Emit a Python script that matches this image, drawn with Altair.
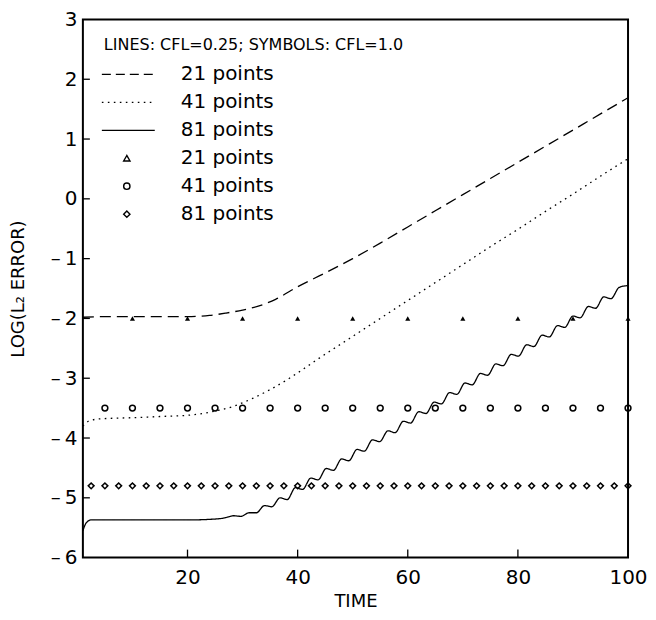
import altair as alt
import pandas as pd

# ---- data ----
t_21 = [1, 5, 10, 15, 20, 24, 27, 30, 33, 36, 40, 45, 50, 55, 60, 65, 70, 75, 80, 85, 90, 95, 100]
e_21 = [-1.98, -1.97, -1.97, -1.97, -1.97, -1.95, -1.91, -1.86, -1.79, -1.68, -1.47, -1.24, -1.00,
        -0.74, -0.47, -0.20, 0.07, 0.34, 0.61, 0.88, 1.15, 1.42, 1.69]

t_41 = [1, 2, 4, 10, 15, 20, 25, 28, 30, 32, 35, 38, 40, 44, 50, 55, 60, 65, 70, 75, 80, 85, 90, 95, 100]
e_41 = [-3.80, -3.72, -3.68, -3.66, -3.64, -3.62, -3.55, -3.48, -3.41, -3.33, -3.19, -3.03, -2.91,
        -2.66, -2.30, -2.00, -1.70, -1.40, -1.10, -0.80, -0.51, -0.21, 0.08, 0.38, 0.67]

t_81 = [1, 1.6, 2.5, 5, 10, 15, 20, 24, 26.5, 28.4, 29.7, 31.2, 32.5,
        34.0, 35.3, 36.8, 38.1, 39.6, 40.9, 42.4, 43.7, 45.2, 46.5, 48.0, 49.3, 50.8, 52.1,
        53.6, 54.9, 56.4, 57.7, 59.2, 60.5, 62.0, 63.3, 64.8, 66.1, 67.6, 68.9, 70.4, 71.7,
        73.2, 74.5, 76.0, 77.3, 78.8, 80.1, 81.6, 82.9, 84.4, 85.7, 87.2, 88.5, 90.0, 91.3,
        92.8, 94.1, 95.6, 96.9, 98.4, 100]
e_81 = [-5.55, -5.42, -5.37, -5.37, -5.37, -5.37, -5.37, -5.36, -5.34, -5.30, -5.31, -5.25, -5.25,
        -5.13, -5.15, -5.00, -5.03, -4.83, -4.86, -4.67, -4.70, -4.51, -4.54, -4.35, -4.38,
        -4.19, -4.22, -4.03, -4.06, -3.88, -3.91, -3.72, -3.75, -3.56, -3.59, -3.40, -3.43,
        -3.24, -3.27, -3.08, -3.11, -2.92, -2.95, -2.76, -2.79, -2.60, -2.63, -2.44, -2.47,
        -2.28, -2.31, -2.12, -2.15, -1.96, -1.99, -1.80, -1.83, -1.64, -1.67, -1.48, -1.45]

tri_t = [10, 20, 30, 40, 50, 60, 70, 80, 90, 100]
tri_e = [-2.0, -2.0, -2.0, -2.0, -2.0, -2.0, -2.0, -2.0, -2.0, -2.0]

cir_t = [5, 10, 15, 20, 25, 30, 35, 40, 45, 50, 55, 60, 65, 70, 75, 80, 85, 90, 95, 100]
cir_e = [-3.5, -3.5, -3.5, -3.5, -3.5, -3.5, -3.5, -3.5, -3.5, -3.5,
         -3.5, -3.5, -3.5, -3.5, -3.5, -3.5, -3.5, -3.5, -3.5, -3.5]

dia_t = [2.5, 5, 7.5, 10, 12.5, 15, 17.5, 20, 22.5, 25, 27.5, 30, 32.5, 35, 37.5, 40,
         42.5, 45, 47.5, 50, 52.5, 55, 57.5, 60, 62.5, 65, 67.5, 70, 72.5, 75, 77.5, 80,
         82.5, 85, 87.5, 90, 92.5, 95, 97.5, 100]
dia_e = [-4.8, -4.8, -4.8, -4.8, -4.8, -4.8, -4.8, -4.8, -4.8, -4.8, -4.8, -4.8, -4.8, -4.8,
         -4.8, -4.8, -4.8, -4.8, -4.8, -4.8, -4.8, -4.8, -4.8, -4.8, -4.8, -4.8, -4.8, -4.8,
         -4.8, -4.8, -4.8, -4.8, -4.8, -4.8, -4.8, -4.8, -4.8, -4.8, -4.8, -4.8]

x_ticks = [20, 40, 60, 80, 100]
y_ticks = [-6, -5, -4, -3, -2, -1, 0, 1, 2, 3]

legend_title = "LINES: CFL=0.25; SYMBOLS: CFL=1.0"
legend_labels = ["21 points", "41 points", "81 points", "21 points", "41 points", "81 points"]

W, H = 546, 539
FONT = "DejaVu Sans"

xs = alt.Scale(domain=[1, 100], nice=False, zero=False)
ys = alt.Scale(domain=[-6, 3], nice=False, zero=False)

xaxis = alt.Axis(values=x_ticks, title="TIME", ticks=False, domain=False, grid=False,
                 labelFlush=False, labelPadding=10, titlePadding=5)
yaxis = alt.Axis(values=y_ticks, title="LOG(L\u2082  ERROR)", ticks=False, domain=False,
                 grid=False, labelPadding=6, titlePadding=23,
                 labelExpr="datum.value < 0 ? '\u2013\u2009' + abs(datum.value) : '' + datum.value")


def line_layer(t, e, dash):
    df = pd.DataFrame({"t": t, "e": e})
    return alt.Chart(df).mark_line(color="black", strokeWidth=1.3, strokeDash=dash,
                                   interpolate="monotone").encode(
        x=alt.X("t:Q", scale=xs, axis=xaxis),
        y=alt.Y("e:Q", scale=ys, axis=yaxis))


def pt_layer(t, e, shape, size, filled):
    df = pd.DataFrame({"t": t, "e": e})
    return alt.Chart(df).mark_point(shape=shape, size=size, filled=filled, color="black",
                                    strokeWidth=1.5, opacity=1, clip=False).encode(
        x=alt.X("t:Q", scale=xs),
        y=alt.Y("e:Q", scale=ys))


l21 = line_layer(t_21, e_21, [11, 6])
l41 = line_layer(t_41, e_41, [1.6, 4.4])
l81 = line_layer(t_81, e_81, [1, 0])

p21 = pt_layer(tri_t, tri_e, "triangle-up", 26, True)
p41 = pt_layer(cir_t, cir_e, "circle", 34, False)
p81 = pt_layer(dia_t, dia_e, "diamond", 34, False)

# inward tick marks
xt = alt.Chart(pd.DataFrame({"t": x_ticks[:-1]})).mark_rule(color="black", strokeWidth=1.3).encode(
    x=alt.X("t:Q", scale=xs), y=alt.value(H), y2=alt.value(H - 8))
yt = alt.Chart(pd.DataFrame({"e": y_ticks[1:-1]})).mark_rule(color="black", strokeWidth=1.3).encode(
    y=alt.Y("e:Q", scale=ys), x=alt.value(0), x2=alt.value(7))

# legend (drawn inside the plot)
leg_rows = [55, 83, 111, 139, 167, 195]
one = pd.DataFrame({"k": [0]})
legend_layers = [
    alt.Chart(one).mark_text(text=legend_title, font=FONT, fontSize=16, align="left",
                             baseline="middle", color="black").encode(
        x=alt.value(21), y=alt.value(26))
]
dashes = [[9, 5], [1.6, 4.4], [1, 0]]
for i in range(3):
    legend_layers.append(
        alt.Chart(one).mark_rule(color="black", strokeWidth=1.3, strokeDash=dashes[i]).encode(
            x=alt.value(19), x2=alt.value(72), y=alt.value(leg_rows[i])))
shapes = ["triangle-up", "circle", "diamond"]
for i in range(3):
    legend_layers.append(
        alt.Chart(one).mark_point(shape=shapes[i], size=40, filled=False, color="black",
                                  strokeWidth=1.4, opacity=1).encode(
            x=alt.value(44), y=alt.value(leg_rows[3 + i])))
for i, lab in enumerate(legend_labels):
    legend_layers.append(
        alt.Chart(one).mark_text(text=lab, font=FONT, fontSize=20, align="left",
                                 baseline="middle", color="black").encode(
            x=alt.value(98), y=alt.value(leg_rows[i])))

chart = alt.layer(l21, l41, l81, p21, p41, p81, xt, yt, *legend_layers).properties(
    width=W, height=H, padding={"left": 1, "top": 1, "right": 0, "bottom": 0}
).configure_view(stroke="black", strokeWidth=2).configure_axis(
    labelFont=FONT, titleFont=FONT, labelFontSize=20, titleFontSize=18,
    labelColor="black", titleColor="black", titleFontWeight="normal"
)

chart.save("out.html", embed_options={"renderer": "svg", "actions": False})
